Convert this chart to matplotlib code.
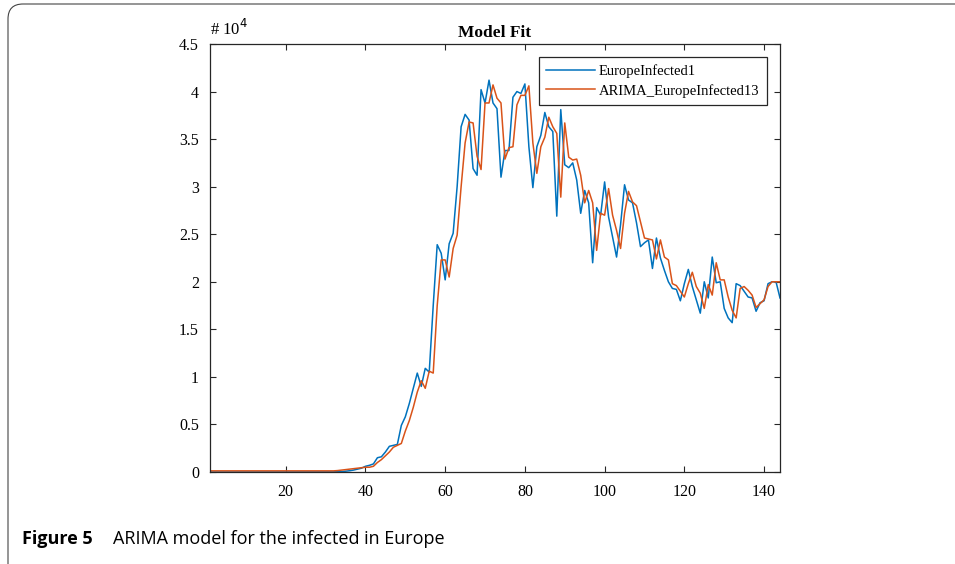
import matplotlib
matplotlib.use("Agg")
import matplotlib.pyplot as plt
from matplotlib.patches import FancyBboxPatch
import numpy as np

# daily infected in Europe (units of 1e4) and the ARIMA fit
europe_infected = [
    0, 0, 0, 0, 0, 0, 0, 0, 0, 0,
    0, 0, 0, 0, 0, 0, 0, 0, 0, 0,
    0, 0, 0, 0, 0, 0.001, 0.001, 0.001, 0.001, 0.001,
    0.001, 0.001, 0.002, 0.004, 0.008, 0.013, 0.02, 0.03, 0.04, 0.06,
    0.07, 0.085, 0.15, 0.16, 0.21, 0.27, 0.28, 0.29, 0.49, 0.58,
    0.72, 0.88, 1.04, 0.90, 1.09, 1.05, 1.75, 2.39, 2.30, 2.02,
    2.40, 2.51, 3.00, 3.63, 3.76, 3.70, 3.19, 3.12, 4.02, 3.88,
    4.12, 3.88, 3.82, 3.10, 3.38, 3.38, 3.94, 4.00, 3.98, 4.08,
    3.42, 2.99, 3.42, 3.54, 3.78, 3.63, 3.58, 2.69, 3.81, 3.23,
    3.20, 3.25, 3.07, 2.72, 2.96, 2.83, 2.20, 2.78, 2.70, 3.05,
    2.68, 2.47, 2.26, 2.60, 3.02, 2.86, 2.83, 2.62, 2.37, 2.41,
    2.44, 2.14, 2.46, 2.25, 2.12, 2.00, 1.93, 1.92, 1.80, 1.98,
    2.13, 1.95, 1.81, 1.67, 2.00, 1.83, 2.26, 1.99, 2.00, 1.72,
    1.62, 1.57, 1.98, 1.96, 1.90, 1.84, 1.83, 1.69, 1.78, 1.80,
    1.98, 2.00, 2.00, 1.83,
]
arima_fit = [
    0.012, 0.012, 0.012, 0.012, 0.012, 0.012, 0.012, 0.012, 0.012, 0.012,
    0.012, 0.012, 0.012, 0.012, 0.012, 0.012, 0.012, 0.012, 0.012, 0.012,
    0.012, 0.012, 0.012, 0.012, 0.012, 0.012, 0.012, 0.012, 0.012, 0.012,
    0.012, 0.012, 0.015, 0.02, 0.025, 0.03, 0.035, 0.04, 0.045, 0.05,
    0.05, 0.06, 0.10, 0.13, 0.17, 0.21, 0.26, 0.28, 0.30, 0.43,
    0.54, 0.68, 0.84, 0.96, 0.88, 1.06, 1.04, 1.75, 2.23, 2.23,
    2.05, 2.35, 2.49, 3.00, 3.46, 3.68, 3.67, 3.32, 3.18, 3.88,
    3.88, 4.07, 3.93, 3.88, 3.29, 3.41, 3.42, 3.86, 3.96, 3.96,
    4.06, 3.46, 3.14, 3.42, 3.52, 3.73, 3.63, 3.56, 2.89, 3.67,
    3.31, 3.28, 3.29, 3.12, 2.83, 2.96, 2.83, 2.33, 2.72, 2.70,
    2.98, 2.70, 2.54, 2.35, 2.72, 2.95, 2.84, 2.80, 2.63, 2.46,
    2.45, 2.44, 2.24, 2.44, 2.26, 2.23, 1.98, 1.96, 1.90, 1.84,
    1.98, 2.10, 1.95, 1.88, 1.72, 1.97, 1.86, 2.20, 2.02, 2.02,
    1.84, 1.70, 1.62, 1.93, 1.95, 1.91, 1.86, 1.73, 1.77, 1.81,
    1.95, 2.00, 2.00, 2.00,
]
days = np.arange(1, len(europe_infected) + 1)

x_ticks = [20, 40, 60, 80, 100, 120, 140]
y_ticks = [0, 0.5, 1, 1.5, 2, 2.5, 3, 3.5, 4, 4.5]
y_labels = ["0", "0.5", "1", "1.5", "2", "2.5", "3", "3.5", "4", "4.5"]

serif = "Liberation Serif"
frame_col = "#262626"

fig = plt.figure(figsize=(9.55, 5.64), dpi=100)
ax = fig.add_axes([210 / 955, 92 / 564, 570 / 955, 428 / 564])

ax.plot(days, europe_infected, color="#0072BD", lw=1.1, label="EuropeInfected1")
ax.plot(days, arima_fit, color="#D95319", lw=1.1, label="ARIMA_EuropeInfected13")

ax.set_xlim(1, len(europe_infected))
ax.set_ylim(0, 4.5)
ax.set_xticks(x_ticks)
ax.set_xticklabels([str(t) for t in x_ticks], fontfamily=serif, fontsize=11.5)
ax.set_yticks(y_ticks)
ax.set_yticklabels(y_labels, fontfamily=serif, fontsize=11.5)
ax.tick_params(direction="in", length=4, width=0.8, color=frame_col,
               top=True, right=True, pad=9)
ax.tick_params(axis="y", pad=8)
for s in ax.spines.values():
    s.set_color(frame_col)
    s.set_linewidth(0.9)

ax.set_title("Model Fit", fontfamily=serif, fontweight="bold", fontsize=12.5, pad=5)
ax.text(0.0, 1.012, "# 10$^{4}$", transform=ax.transAxes, fontfamily=serif,
        fontsize=12, ha="left", va="bottom")

leg = ax.legend(loc="upper right", bbox_to_anchor=(0.977, 0.97),
                prop={"family": serif, "size": 10.5}, fancybox=False,
                edgecolor=frame_col, framealpha=1, handlelength=3.3,
                handletextpad=0.3, borderpad=0.5, labelspacing=0.4,
                borderaxespad=0)
leg.get_frame().set_linewidth(0.9)

# rounded figure frame and caption
box = FancyBboxPatch((0.08, -0.6), 10.5, 6.2, boxstyle="round,pad=0,rounding_size=0.15",
                     transform=fig.dpi_scale_trans, fill=False, edgecolor="#444444", lw=0.8)
fig.patches.append(box)
fig.text(22 / 955, 1 - 539 / 564, "Figure 5", fontfamily="Open Sans", fontweight="bold",
         fontsize=13, va="center", ha="left")
fig.text(113 / 955, 1 - 539 / 564, "ARIMA model for the infected in Europe",
         fontfamily="Open Sans", fontsize=13, va="center", ha="left")

fig.savefig("out.png", dpi=100)
